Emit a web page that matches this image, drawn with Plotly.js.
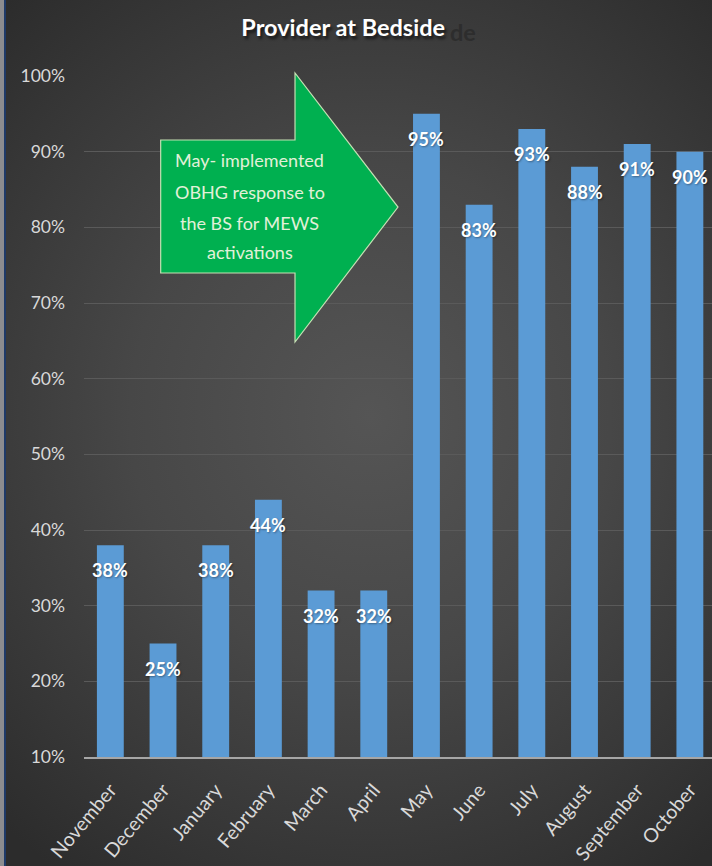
<!DOCTYPE html>
<html>
<head>
<meta charset="utf-8">
<script src="https://cdn.plot.ly/plotly-3.0.1.min.js"></script>
<style>
  html, body { margin: 0; padding: 0; width: 712px; height: 866px; overflow: hidden; }
  #bg { position: absolute; left: 0; top: 0; width: 712px; height: 866px;
        background: radial-gradient(ellipse 75% 65% at 52% 48%, #555555 0%, #474747 45%, #363636 80%, #2c2c2c 100%); }
  #chart { position: absolute; left: 0; top: 0; width: 712px; height: 866px; }
  #edge1 { position: absolute; left: 0; top: 0; width: 4px; height: 866px; background: #8c8c8f; }
  #edge2 { position: absolute; left: 4px; top: 0; width: 2px; height: 866px; background: #1f3a68; }
</style>
</head>
<body>
<div id="bg"></div>
<div id="chart"></div>
<div id="edge1"></div>
<div id="edge2"></div>
<script>
const months = ["November", "December", "January", "February", "March", "April",
                "May", "June", "July", "August", "September", "October"];
const providerPct = [38, 25, 38, 44, 32, 32, 95, 83, 93, 88, 91, 90];
const yTickVals = [10, 20, 30, 40, 50, 60, 70, 80, 90, 100];
const yTickText = ["10%", "20%", "30%", "40%", "50%", "60%", "70%", "80%", "90%", "100%"];
const calloutLines = ["May- implemented", "OBHG response to", "the BS for MEWS", "activations"];

const FONT = 'Lato, "Open Sans", "Liberation Sans", sans-serif';

const trace = {
  type: 'bar',
  x: months,
  y: providerPct,
  marker: { color: '#5b9bd5', line: { width: 0 } },
  hoverinfo: 'x+y'
};

const annotations = providerPct.map((v, i) => ({
  x: months[i], y: v, xref: 'x', yref: 'y',
  text: '<b>' + v + '%</b>', showarrow: false,
  yshift: -25,
  font: { family: FONT, size: 18, color: '#ffffff', shadow: '1px 1px 2px rgba(0,0,0,0.35)' }
}));

// ghost letters behind the title
annotations.push({
  x: 0.6035, y: 1.0646, xref: 'paper', yref: 'paper', showarrow: false,
  xanchor: 'center', yanchor: 'middle',
  text: '<b>de</b>', font: { family: FONT, size: 23.5, color: '#2d2d2d' }
});

// callout text lines
const lineY = [0.8767, 0.8297, 0.7841, 0.7415];
calloutLines.forEach((t, i) => {
  annotations.push({
    x: 0.2643, y: lineY[i], xref: 'paper', yref: 'paper', showarrow: false,
    xanchor: 'center', yanchor: 'middle',
    text: t, font: { family: FONT, size: 18, color: '#e2f0d9' }
  });
});

const arrowPath = 'M 0.1221 0.906 L 0.336 0.906 L 0.336 1.0044 L 0.5 0.8076 ' +
                  'L 0.336 0.6094 L 0.336 0.7107 L 0.1221 0.7107 Z';

const layout = {
  width: 712, height: 866,
  paper_bgcolor: 'rgba(0,0,0,0)',
  plot_bgcolor: 'rgba(0,0,0,0)',
  margin: { l: 84, r: 0, t: 76, b: 109, pad: 0 },
  showlegend: false,
  bargap: 0.49,
  title: {
    text: '<b>Provider at Bedside</b>',
    x: 0.482, xref: 'container', xanchor: 'center',
    y: 0.9677, yref: 'container', yanchor: 'middle',
    font: { family: FONT, size: 23.5, color: '#ffffff', shadow: '2px 3px 3px rgba(0,0,0,0.6)' }
  },
  xaxis: {
    type: 'category',
    range: [-0.5, 11.42],
    tickangle: -50,
    ticks: '',
    ticklabelstandoff: 12,
    tickfont: { family: FONT, size: 19.5, color: '#d9d9d9' },
    showline: true, linecolor: '#a6a6a6', linewidth: 2,
    showgrid: false, zeroline: false, fixedrange: true
  },
  yaxis: {
    range: [10, 100],
    tickvals: yTickVals,
    ticktext: yTickText,
    ticks: '',
    ticklabelstandoff: 18,
    tickfont: { family: FONT, size: 17.5, color: '#d9d9d9' },
    showgrid: true, gridcolor: '#5a5a5a', gridwidth: 1,
    showline: false, zeroline: false, fixedrange: true
  },
  shapes: [{
    type: 'path', xref: 'paper', yref: 'paper', path: arrowPath,
    fillcolor: '#00b050', line: { color: '#c5e0b4', width: 1.2 }, layer: 'above'
  }],
  annotations: annotations
};

Plotly.newPlot('chart', [trace], layout, { displayModeBar: false, staticPlot: true });
</script>
</body>
</html>
